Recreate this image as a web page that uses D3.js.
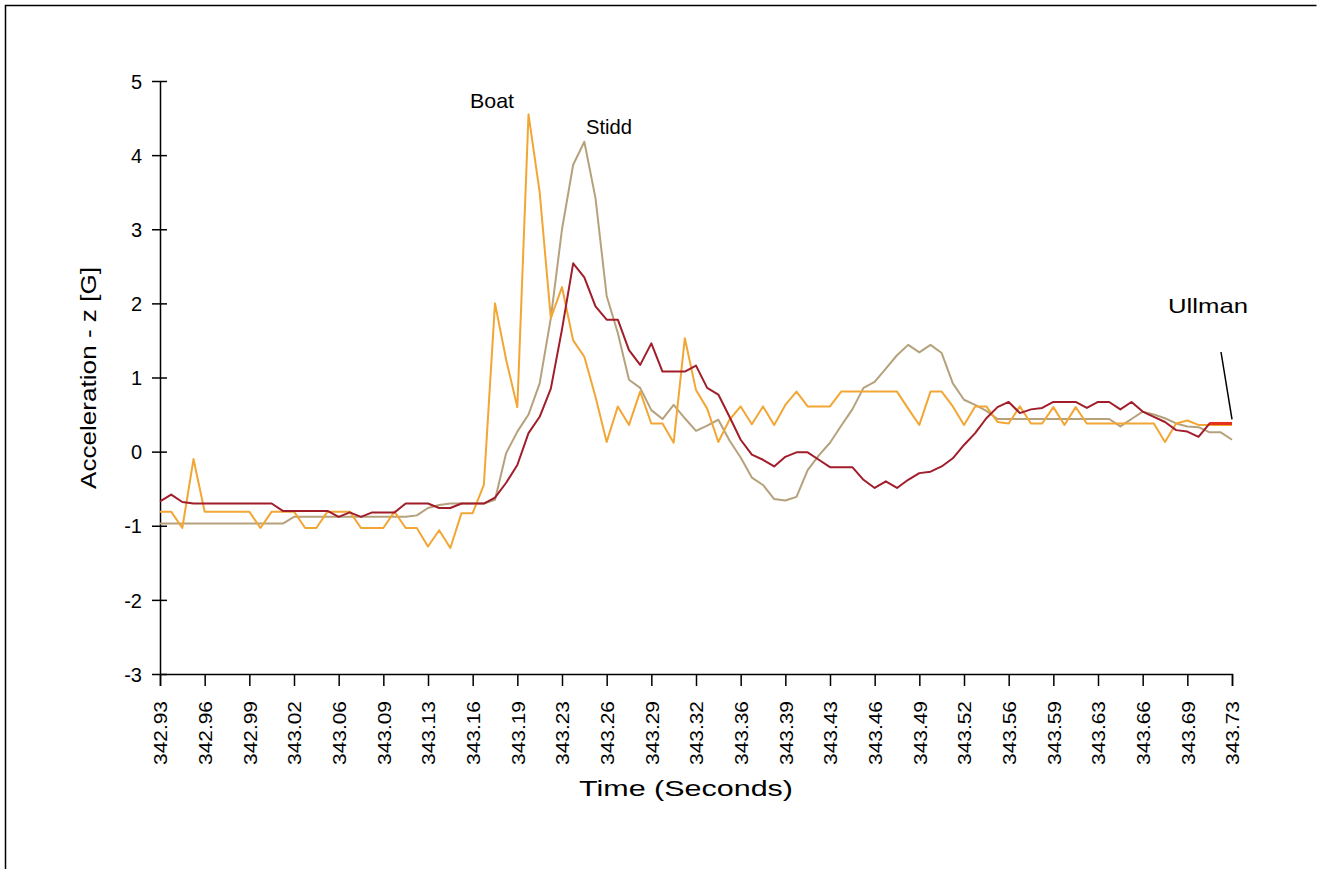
<!DOCTYPE html>
<html>
<head>
<meta charset="utf-8">
<script src="https://cdn.jsdelivr.net/npm/d3@7"></script>
<style>
  body { margin: 0; background: #fff; }
  svg { display: block; }
  text { font-family: "Liberation Sans", Arial, sans-serif; fill: #000; }
</style>
</head>
<body>
<div id="chart"></div>
<script>
// tick labels on the time axis (one every 4 samples)
const timeLabels = ["342.93", "342.96", "342.99", "343.02", "343.06", "343.09", "343.13",
  "343.16", "343.19", "343.23", "343.26", "343.29", "343.32", "343.36", "343.39", "343.43",
  "343.46", "343.49", "343.52", "343.56", "343.59", "343.63", "343.66", "343.69", "343.73"];
const samplesPerLabel = 4;

// acceleration z [G]
const boat = [-0.81, -0.81, -1.03, -0.10, -0.81, -0.81, -0.81, -0.81, -0.81, -1.03,
  -0.81, -0.81, -0.81, -1.03, -1.03, -0.81, -0.81, -0.81, -1.03, -1.03,
  -1.03, -0.81, -1.03, -1.03, -1.28, -1.06, -1.30, -0.83, -0.83, -0.45,
  2.00, 1.24, 0.60, 4.55, 3.50, 1.80, 2.22, 1.50, 1.28, 0.74,
  0.13, 0.61, 0.36, 0.81, 0.38, 0.38, 0.12, 1.53, 0.83, 0.58,
  0.13, 0.43, 0.61, 0.37, 0.61, 0.36, 0.63, 0.81, 0.61, 0.61,
  0.61, 0.81, 0.81, 0.81, 0.81, 0.81, 0.81, 0.58, 0.36, 0.81,
  0.81, 0.61, 0.36, 0.61, 0.61, 0.40, 0.38, 0.61, 0.38, 0.38,
  0.60, 0.36, 0.60, 0.38, 0.38, 0.38, 0.38, 0.38, 0.38, 0.38,
  0.13, 0.38, 0.42, 0.36, 0.36, 0.36, 0.36];

const stidd = [-0.97, -0.97, -0.97, -0.97, -0.97, -0.97, -0.97, -0.97, -0.97, -0.97,
  -0.97, -0.97, -0.88, -0.88, -0.88, -0.88, -0.88, -0.88, -0.88, -0.88,
  -0.88, -0.88, -0.88, -0.86, -0.76, -0.72, -0.70, -0.70, -0.70, -0.70,
  -0.65, -0.02, 0.27, 0.50, 0.92, 1.80, 3.00, 3.87, 4.18, 3.42,
  2.10, 1.60, 0.97, 0.86, 0.56, 0.44, 0.63, 0.45, 0.28, 0.35,
  0.43, 0.15, -0.08, -0.35, -0.45, -0.64, -0.66, -0.61, -0.25, -0.05,
  0.12, 0.35, 0.57, 0.86, 0.94, 1.12, 1.30, 1.44, 1.34, 1.44,
  1.33, 0.92, 0.70, 0.63, 0.55, 0.44, 0.44, 0.44, 0.44, 0.44,
  0.44, 0.44, 0.44, 0.44, 0.44, 0.44, 0.34, 0.44, 0.54, 0.50,
  0.45, 0.38, 0.34, 0.33, 0.26, 0.26, 0.16];

const ullman = [-0.67, -0.58, -0.68, -0.70, -0.70, -0.70, -0.70, -0.70, -0.70, -0.70,
  -0.70, -0.80, -0.80, -0.80, -0.80, -0.80, -0.88, -0.82, -0.88, -0.82,
  -0.82, -0.82, -0.70, -0.70, -0.70, -0.76, -0.76, -0.70, -0.70, -0.70,
  -0.62, -0.42, -0.18, 0.25, 0.47, 0.85, 1.65, 2.54, 2.35, 1.96,
  1.78, 1.78, 1.37, 1.17, 1.46, 1.08, 1.08, 1.08, 1.16, 0.86,
  0.77, 0.47, 0.16, -0.04, -0.11, -0.20, -0.07, -0.01, -0.01, -0.11,
  -0.21, -0.21, -0.21, -0.38, -0.49, -0.40, -0.49, -0.38, -0.29, -0.27,
  -0.20, -0.09, 0.09, 0.25, 0.45, 0.60, 0.67, 0.52, 0.57, 0.59,
  0.67, 0.67, 0.67, 0.59, 0.67, 0.67, 0.57, 0.67, 0.54, 0.47,
  0.40, 0.29, 0.27, 0.20, 0.38, 0.38, 0.38];

const yTicks = [-3, -2, -1, 0, 1, 2, 3, 4, 5];

const W = 1321, H = 869;
const plot = { left: 160, right: 1232, top: 81, bottom: 674 };

const svg = d3.select("#chart").append("svg")
  .attr("width", W).attr("height", H);

svg.append("rect").attr("width", W).attr("height", H).attr("fill", "#fff");

// outer chart frame (left and top edges visible)
svg.append("path")
  .attr("d", `M5.5,${H} V5.5 H1316.5`)
  .attr("fill", "none").attr("stroke", "#000").attr("stroke-width", 1.5);

const nSamples = boat.length;
const x = d3.scaleLinear().domain([0, nSamples - 1]).range([plot.left, plot.right]);
const y = d3.scaleLinear().domain([-3, 5]).range([plot.bottom, plot.top]);

// y axis with ticks crossing the line
const yAxis = svg.append("g").attr("transform", `translate(${plot.left},0)`)
  .call(d3.axisLeft(y).tickValues(yTicks).tickSize(0).tickPadding(18).tickFormat(d => d));
yAxis.select(".domain").attr("stroke", "#000").attr("stroke-width", 1.5);
yAxis.selectAll(".tick").append("line")
  .attr("x1", -8).attr("x2", 7).attr("stroke", "#000").attr("stroke-width", 1.5);
yAxis.selectAll("text").style("font-size", "20px").attr("dy", "0.36em");

// x axis: a tick and label every samplesPerLabel samples
const tickIdx = timeLabels.map((_, k) => k * samplesPerLabel);
const xAxis = svg.append("g").attr("transform", `translate(0,${plot.bottom})`)
  .call(d3.axisBottom(x).tickValues(tickIdx).tickSizeOuter(0).tickSize(12)
    .tickFormat((d, k) => timeLabels[k]));
xAxis.select(".domain").attr("stroke", "#000").attr("stroke-width", 1.5);
xAxis.selectAll(".tick line").attr("stroke", "#000").attr("stroke-width", 1.5);
xAxis.selectAll("text")
  .style("font-size", "19px")
  .attr("text-anchor", "end")
  .attr("textLength", 64)
  .attr("lengthAdjust", "spacingAndGlyphs")
  .attr("transform", "rotate(-90)")
  .attr("x", -27).attr("y", 0).attr("dy", "0.36em");

// axis titles
svg.append("text").attr("transform", "translate(96,378) rotate(-90)")
  .attr("text-anchor", "middle").style("font-size", "22px")
  .attr("textLength", 222).attr("lengthAdjust", "spacingAndGlyphs")
  .text("Acceleration - z [G]");
svg.append("text").attr("x", 686).attr("y", 796)
  .attr("text-anchor", "middle").style("font-size", "22px")
  .attr("textLength", 214).attr("lengthAdjust", "spacingAndGlyphs")
  .text("Time (Seconds)");

// series lines
const line = d3.line().x((d, i) => x(i)).y(d => y(d));
const series = [
  { name: "Stidd", values: stidd, color: "#b5a27c" },
  { name: "Boat", values: boat, color: "#f2a634" },
  { name: "Ullman", values: ullman, color: "#a11d2a" }
];
svg.selectAll(".series").data(series).enter().append("path")
  .attr("class", "series")
  .attr("d", d => line(d.values))
  .attr("fill", "none")
  .attr("stroke", d => d.color)
  .attr("stroke-width", 2)
  .attr("stroke-linejoin", "round");

// selected end of Ullman drawn brighter
const endStart = nSamples - 3;
svg.append("path")
  .attr("d", d3.line().x(d => x(d[0])).y(d => y(d[1]))(
    ullman.slice(endStart).map((v, j) => [endStart + j, v])))
  .attr("fill", "none").attr("stroke", "#e3311d").attr("stroke-width", 3);

// series labels
svg.append("text").attr("x", 492).attr("y", 108).attr("text-anchor", "middle")
  .style("font-size", "21px").attr("textLength", 44).attr("lengthAdjust", "spacingAndGlyphs")
  .text("Boat");
svg.append("text").attr("x", 609).attr("y", 134).attr("text-anchor", "middle")
  .style("font-size", "21px").attr("textLength", 46).attr("lengthAdjust", "spacingAndGlyphs")
  .text("Stidd");
svg.append("text").attr("x", 1208).attr("y", 313).attr("text-anchor", "middle")
  .style("font-size", "21px").attr("textLength", 80).attr("lengthAdjust", "spacingAndGlyphs")
  .text("Ullman");
svg.append("line")
  .attr("x1", 1221).attr("y1", 352).attr("x2", x(nSamples - 1)).attr("y2", y(ullman[nSamples - 1]) - 4)
  .attr("stroke", "#000").attr("stroke-width", 1.5);
</script>
</body>
</html>
